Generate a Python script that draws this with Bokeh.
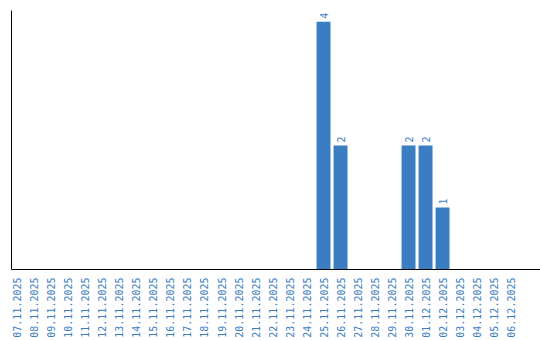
import math
from bokeh.plotting import figure
from bokeh.models import ColumnDataSource, Range1d, FixedTicker
from bokeh.core.properties import value
from bokeh.embed import file_html
from bokeh.resources import INLINE

dates = ["07.11.2025", "08.11.2025", "09.11.2025", "10.11.2025", "11.11.2025",
         "12.11.2025", "13.11.2025", "14.11.2025", "15.11.2025", "16.11.2025",
         "17.11.2025", "18.11.2025", "19.11.2025", "20.11.2025", "21.11.2025",
         "22.11.2025", "23.11.2025", "24.11.2025", "25.11.2025", "26.11.2025",
         "27.11.2025", "28.11.2025", "29.11.2025", "30.11.2025", "01.12.2025",
         "02.12.2025", "03.12.2025", "04.12.2025", "05.12.2025", "06.12.2025"]
counts = [0, 0, 0, 0, 0, 0, 0, 0, 0, 0, 0, 0, 0, 0, 0, 0, 0, 0, 4, 2,
          0, 0, 0, 2, 2, 1, 0, 0, 0, 0]

BLUE = "#3a7dc2"
FONT = "DejaVu Sans Mono"

idx = list(range(len(dates)))
src = ColumnDataSource(dict(x=idx, y=counts))
nz = [(i, c) for i, c in zip(idx, counts) if c > 0]
lab = ColumnDataSource(dict(x=[i for i, _ in nz], y=[c for _, c in nz],
                            t=[str(c) for _, c in nz]))

p = figure(width=540, height=340, output_backend="svg", toolbar_location=None,
           x_range=Range1d(-0.35, 30.76), y_range=Range1d(0, 4.18),
           min_border_left=11, min_border_top=10, min_border_right=0, min_border_bottom=71)
p.outline_line_color = None
p.xgrid.grid_line_color = None
p.ygrid.grid_line_color = None
p.background_fill_color = "white"
p.border_fill_color = "white"

p.vbar(x="x", top="y", width=0.82, bottom=0, source=src, color=BLUE, line_color=None)
p.text(x="x", y="y", text="t", source=lab, angle=math.pi / 2, text_align="left",
       text_baseline="middle", text_font_size="10px", text_color=BLUE,
       text_font=value(FONT), x_offset=0, y_offset=-3)

p.xaxis.ticker = FixedTicker(ticks=idx)
p.xaxis.major_label_overrides = {i: d for i, d in zip(idx, dates)}
p.xaxis.major_label_orientation = math.pi / 2
p.xaxis.major_label_text_color = BLUE
p.xaxis.major_label_text_font = FONT
p.xaxis.major_label_text_font_size = "10px"
p.xaxis.major_tick_line_color = None
p.xaxis.minor_tick_line_color = None
p.xaxis.major_tick_out = 0
p.xaxis.major_tick_in = 0
p.xaxis.minor_tick_out = 0
p.xaxis.minor_tick_in = 0
p.xaxis.major_label_standoff = 8
p.xaxis.axis_line_color = "black"

p.yaxis.ticker = FixedTicker(ticks=[])
p.yaxis.major_tick_line_color = None
p.yaxis.minor_tick_line_color = None
p.yaxis.major_tick_out = 0
p.yaxis.major_tick_in = 0
p.yaxis.major_label_text_font_size = "0px"
p.yaxis.axis_line_color = "black"

open("out.html", "w").write(file_html(p, INLINE))
